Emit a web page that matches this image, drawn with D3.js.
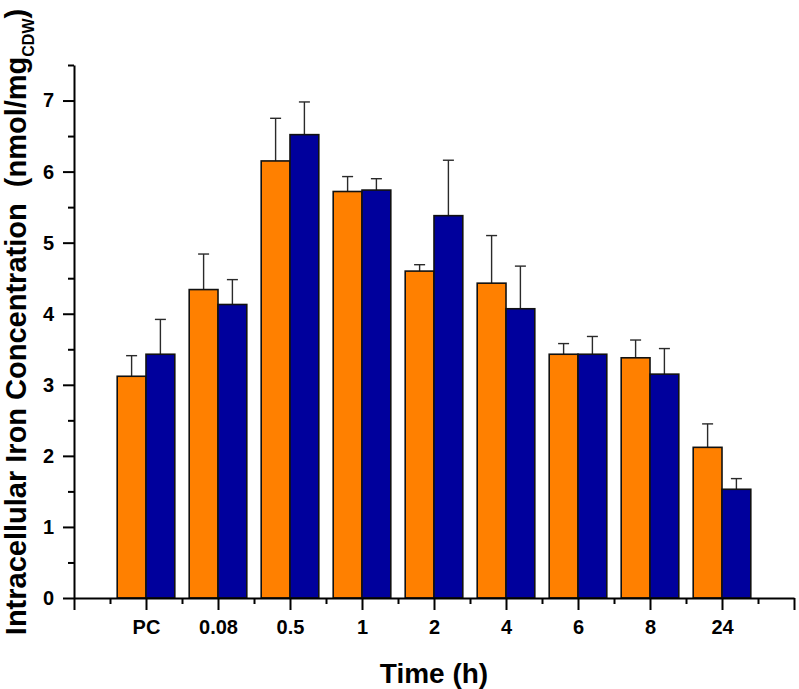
<!DOCTYPE html>
<html>
<head>
<meta charset="utf-8">
<script src="https://cdn.jsdelivr.net/npm/d3@7"></script>
<style>
  html, body { margin: 0; padding: 0; background: #fff; }
  svg { display: block; }
  text { font-family: "Liberation Sans", Arial, sans-serif; font-weight: bold; fill: #000; }
</style>
</head>
<body>
<svg id="chart" width="799" height="689"></svg>
<script>
// ---- data ----
const categories = ["PC", "0.08", "0.5", "1", "2", "4", "6", "8", "24"];
const seriesA = [3.12, 4.34, 6.15, 5.72, 4.60, 4.43, 3.43, 3.38, 2.12];   // orange
const errA    = [0.29, 0.50, 0.60, 0.21, 0.09, 0.67, 0.15, 0.25, 0.33];
const seriesB = [3.43, 4.13, 6.52, 5.74, 5.38, 4.07, 3.43, 3.15, 1.53];   // blue
const errB    = [0.49, 0.35, 0.46, 0.16, 0.78, 0.60, 0.25, 0.36, 0.15];
const yMajorTicks = [0, 1, 2, 3, 4, 5, 6, 7];
const yMinorTicks = [0.5, 1.5, 2.5, 3.5, 4.5, 5.5, 6.5, 7.5];
const xMajorTicks = [0, 1, 2, 3, 4, 5, 6, 7, 8, 9, 10];
const xMinorTicks = [0.5, 1.5, 2.5, 3.5, 4.5, 5.5, 6.5, 7.5, 8.5, 9.5];

const colorA = "#FF8000";
const colorB = "#00009C";

const svg = d3.select("#chart");
const mLeft = 74, mRight = 794, mTop = 65, mBottom = 598;

const x = d3.scaleLinear().domain([0, 10]).range([mLeft, mRight]);
const y = d3.scaleLinear().domain([0, 7.5]).range([mBottom, mTop]);
const barW = 0.4;

const data = categories.map((c, i) => ({
  cat: c, pos: i + 1, a: seriesA[i], ea: errA[i], b: seriesB[i], eb: errB[i]
}));

const bars = [];
data.forEach(d => {
  bars.push({ x0: d.pos - barW, x1: d.pos, v: d.a, e: d.ea, color: colorA });
  bars.push({ x0: d.pos, x1: d.pos + barW, v: d.b, e: d.eb, color: colorB });
});

// error bars
const eg = svg.append("g").attr("stroke", "#2a2a2a").attr("stroke-width", 1.4).attr("fill", "none");
bars.forEach(b => {
  const cx = (x(b.x0) + x(b.x1)) / 2;
  eg.append("line").attr("x1", cx).attr("x2", cx).attr("y1", y(b.v)).attr("y2", y(b.v + b.e));
  eg.append("line").attr("x1", cx - 5.5).attr("x2", cx + 5.5).attr("y1", y(b.v + b.e)).attr("y2", y(b.v + b.e));
});

svg.append("g").selectAll("rect").data(bars).join("rect")
  .attr("x", d => x(d.x0))
  .attr("width", d => x(d.x1) - x(d.x0))
  .attr("y", d => y(d.v))
  .attr("height", d => y(0) - y(d.v))
  .attr("fill", d => d.color)
  .attr("stroke", "#111")
  .attr("stroke-width", 1.6);

// y axis
const yAxis = svg.append("g").attr("transform", `translate(${mLeft},0)`)
  .call(d3.axisLeft(y).tickValues(yMajorTicks).tickSize(11).tickSizeOuter(0).tickPadding(9).tickFormat(d3.format("d")));
const yMinor = svg.append("g").attr("transform", `translate(${mLeft},0)`)
  .call(d3.axisLeft(y).tickValues(yMinorTicks).tickSize(6).tickSizeOuter(0).tickFormat(""));
yMinor.select(".domain").remove();

// x axis
const xAxis = svg.append("g").attr("transform", `translate(0,${mBottom})`)
  .call(d3.axisBottom(x).tickValues(xMajorTicks).tickSize(12).tickSizeOuter(0)
    .tickFormat(d => (d >= 1 && d <= categories.length) ? categories[d - 1] : ""));
const xMinor = svg.append("g").attr("transform", `translate(0,${mBottom})`)
  .call(d3.axisBottom(x).tickValues(xMinorTicks).tickSize(6).tickSizeOuter(0).tickFormat(""));
xMinor.select(".domain").remove();

[yAxis, yMinor, xAxis, xMinor].forEach(g => {
  g.selectAll(".domain").attr("stroke", "#000").attr("stroke-width", 2);
  g.selectAll(".tick line").attr("stroke", "#000").attr("stroke-width", 2);
});
yAxis.selectAll(".tick text").style("font-size", "20px").style("font-family", "'Liberation Sans', Arial, sans-serif").style("font-weight", "bold");
xAxis.selectAll(".tick text").style("font-size", "20px").style("font-family", "'Liberation Sans', Arial, sans-serif").style("font-weight", "bold")
  .attr("y", 22).attr("dy", "0.71em");

// axis titles
svg.append("text")
  .attr("x", (mLeft + mRight) / 2).attr("y", 683)
  .attr("text-anchor", "middle")
  .style("font-size", "28px")
  .text("Time (h)");

const yt = svg.append("text")
  .attr("transform", "translate(26,322) rotate(-90)")
  .attr("text-anchor", "middle")
  .style("font-size", "29px")
  .style("white-space", "pre");
yt.append("tspan").text("Intracellular Iron Concentration  (nmol/mg");
yt.append("tspan").attr("dy", 8).style("font-size", "16px").text("CDW");
yt.append("tspan").attr("dy", -8).text(")");
</script>
</body>
</html>
